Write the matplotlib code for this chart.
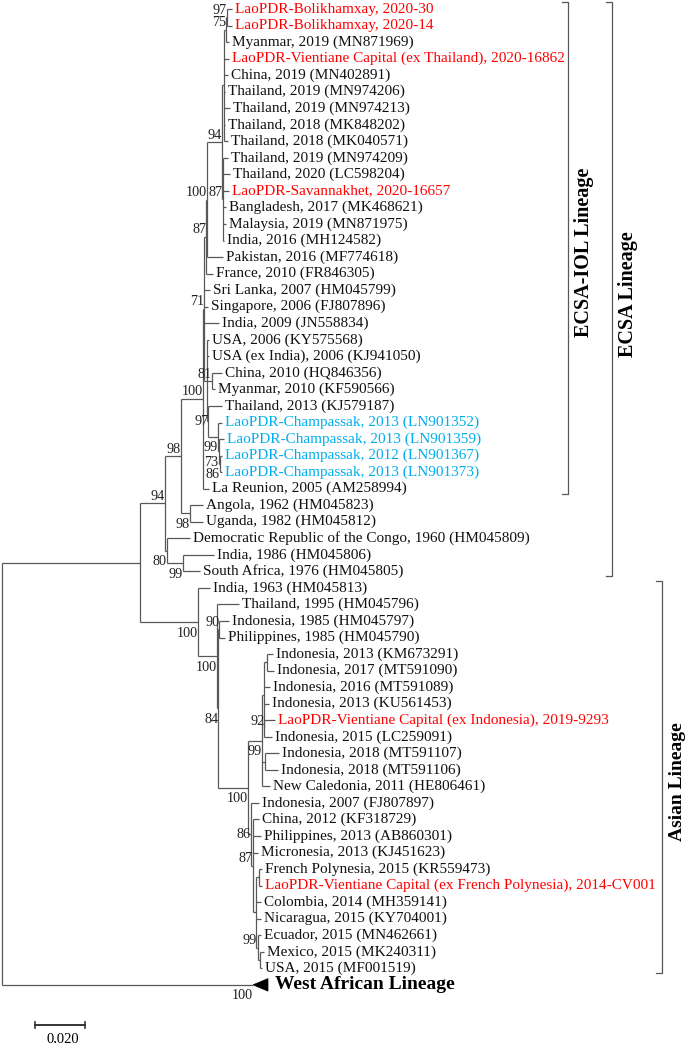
import matplotlib
matplotlib.use("Agg")
import matplotlib.pyplot as plt
from matplotlib.patches import Polygon

# ---------------- data ----------------
# Newick tree: branch lengths in substitutions/site; internal node names are ids
newick = (
    "((((((((((((L0:0.0020,L1:0.0020)N97b:0.0004,L2:0.0012)N75:0.0006,"
    "L3:0.0018,L4:0.0014,L5:0.0002,L6:0.0022,L7:0.0002,L8:0.0014)R:0.0010,"
    "(L9:0.0020,L10:0.0028,L11:0.0024,L12:0.0012,L13:0.0012,L14:0.0004)N87s:0.0004"
    ")N94:0.0058,L15:0.0062)P:0.0004,L16:0.0026)N87c:0.0008,"
    "L17:0.0022,L18:0.0014,L19:0.0058,"
    "(L20:0.0008,L21:0.0008,(L22:0.0040,L23:0.0012)N81:0.0020,"
    "(L24:0.0054,(L25:0.0016,(L26:0.0020,(L27:0.0008,L28:0.0008)N86:0.0004"
    ")N73:0.0004)N99:0.0038)N97:0.0006)M:0.0010"
    ")N71:0.0006,L29:0.0024)N100a:0.0088,"
    "(L30:0.0052,L31:0.0052)NAU:0.0036)N98a:0.0064,"
    "(L32:0.0092,(L33:0.0124,L34:0.0068)N99a:0.0064)N80:0.0008)ECSA:0.0100,"
    "(L35:0.0048,(L36:0.0088,((L37:0.0038,L38:0.0022)N90:0.0004,"
    "((((L39:0.0024,L40:0.0028)J:0.0012,L41:0.0024,L42:0.0020,"
    "(L43:0.0042,L44:0.0030)K:0.0002)G:0.0008,"
    "(L45:0.0056,L46:0.0052)I:0.0012,L47:0.0032)E:0.0056,"
    "(L48:0.0032,(L49:0.0024,L50:0.0032,L51:0.0020,"
    "((L52:0.0012,L53:0.0012)U:0.0012,L54:0.0020,L55:0.0020,"
    "(L56:0.0014,(L57:0.0018,L58:0.0010)Q2:0.0008)O:0.0006)V:0.0012"
    ")Y:0.0008)F:0.0012)D:0.0118)C84:0.0006)B:0.0076)ASIAN:0.0232"
    ")A:0.0552,WA:0.1004)root;"
)

tip_labels = [
    "LaoPDR-Bolikhamxay, 2020-30", "LaoPDR-Bolikhamxay, 2020-14",
    "Myanmar, 2019 (MN871969)", "LaoPDR-Vientiane Capital (ex Thailand), 2020-16862",
    "China, 2019 (MN402891)", "Thailand, 2019 (MN974206)", "Thailand, 2019 (MN974213)",
    "Thailand, 2018 (MK848202)", "Thailand, 2018 (MK040571)", "Thailand, 2019 (MN974209)",
    "Thailand, 2020 (LC598204)", "LaoPDR-Savannakhet, 2020-16657",
    "Bangladesh, 2017 (MK468621)", "Malaysia, 2019 (MN871975)", "India, 2016 (MH124582)",
    "Pakistan, 2016 (MF774618)", "France, 2010 (FR846305)", "Sri Lanka, 2007 (HM045799)",
    "Singapore, 2006 (FJ807896)", "India, 2009 (JN558834)", "USA, 2006 (KY575568)",
    "USA (ex India), 2006 (KJ941050)", "China, 2010 (HQ846356)", "Myanmar, 2010 (KF590566)",
    "Thailand, 2013 (KJ579187)", "LaoPDR-Champassak, 2013 (LN901352)",
    "LaoPDR-Champassak, 2013 (LN901359)", "LaoPDR-Champassak, 2012 (LN901367)",
    "LaoPDR-Champassak, 2013 (LN901373)", "La Reunion, 2005 (AM258994)",
    "Angola, 1962 (HM045823)", "Uganda, 1982 (HM045812)",
    "Democratic Republic of the Congo, 1960 (HM045809)", "India, 1986 (HM045806)",
    "South Africa, 1976 (HM045805)", "India, 1963 (HM045813)", "Thailand, 1995 (HM045796)",
    "Indonesia, 1985 (HM045797)", "Philippines, 1985 (HM045790)",
    "Indonesia, 2013 (KM673291)", "Indonesia, 2017 (MT591090)", "Indonesia, 2016 (MT591089)",
    "Indonesia, 2013 (KU561453)", "LaoPDR-Vientiane Capital (ex Indonesia), 2019-9293",
    "Indonesia, 2015 (LC259091)", "Indonesia, 2018 (MT591107)", "Indonesia, 2018 (MT591106)",
    "New Caledonia, 2011 (HE806461)", "Indonesia, 2007 (FJ807897)", "China, 2012 (KF318729)",
    "Philippines, 2013 (AB860301)", "Micronesia, 2013 (KJ451623)",
    "French Polynesia, 2015 (KR559473)",
    "LaoPDR-Vientiane Capital (ex French Polynesia), 2014-CV001",
    "Colombia, 2014 (MH359141)", "Nicaragua, 2015 (KY704001)", "Ecuador, 2015 (MN462661)",
    "Mexico, 2015 (MK240311)", "USA, 2015 (MF001519)",
]
collapsed_label = "West African Lineage"
collapsed_depth = 0.006

red_tips = [0, 1, 3, 11, 43, 53]
blue_tips = [25, 26, 27, 28]

bootstrap = {
    "N97b": 97, "N75": 75, "N94": 94, "N87s": 87, "P": 100, "N87c": 87, "N71": 71,
    "N81": 81, "N97": 97, "N99": 99, "N73": 73, "N86": 86, "N100a": 100, "N98a": 98,
    "NAU": 98, "ECSA": 94, "N80": 80, "N99a": 99, "ASIAN": 100, "B": 100, "N90": 90,
    "C84": 84, "D": 100, "E": 99, "K": 92, "F": 86, "Y": 87, "O": 99, "WA": 100,
}

clades = [  # (label, first tip, last tip)
    ("ECSA-IOL Lineage", 0, 29),
    ("ECSA Lineage", 0, 34),
    ("Asian Lineage", 35, 58),
]
scale_value = 0.020

# ---------------- style ----------------
label_side = {
    "N97b": "a", "N75": "a", "N94": "a", "N87s": "a", "P": "a", "N87c": "a", "N71": "a",
    "N81": "a", "N97": "c", "N99": "b", "N73": "b", "N86": "b", "N100a": "a", "N98a": "a",
    "NAU": "b", "ECSA": "a", "N80": "b", "N99a": "b", "ASIAN": "b", "B": "b", "N90": "a",
    "C84": "b", "D": "b", "E": "b", "K": "a", "F": "c", "Y": "a", "O": "a", "WA": "b",
}
clade_x_px = [568, 612.5, 662]
clade_font = [14.5, 14.5, 14]
RED = "#ff0000"
BLUE = "#00aeef"
LINE = "#585858"
FONT = "Liberation Serif"


# ---------------- parse newick ----------------
class Node:
    def __init__(self):
        self.name = ""
        self.length = 0.0
        self.children = []


def parse(s):
    pos = [0]

    def read_node():
        n = Node()
        if s[pos[0]] == "(":
            pos[0] += 1
            n.children.append(read_node())
            while s[pos[0]] == ",":
                pos[0] += 1
                n.children.append(read_node())
            pos[0] += 1  # ')'
        start = pos[0]
        while s[pos[0]] not in ":,);":
            pos[0] += 1
        n.name = s[start:pos[0]]
        if s[pos[0]] == ":":
            pos[0] += 1
            start = pos[0]
            while s[pos[0]] not in ",);":
                pos[0] += 1
            n.length = float(s[start:pos[0]])
        return n

    return read_node()


tree = parse(newick)
counter = [0]


def layout(n, x0):
    n.x = x0 + n.length
    if not n.children:
        n.y = counter[0]
        counter[0] += 1
    else:
        for c in n.children:
            layout(c, n.x)
        n.y = 0.5 * (n.children[0].y + n.children[-1].y)


tree.length = 0.0
layout(tree, 0.0)

# ---------------- figure ----------------
W, H = 688, 1043
fig = plt.figure(figsize=(W / 100, H / 100), dpi=100)
ax = fig.add_axes([0, 0, 1, 1])
px = 0.0004           # data units per pixel (x)
row_px = 16.54        # pixels per row
ax.set_xlim(-2 * px, (W - 2) * px)
ax.set_ylim((H - 9) / row_px, -9 / row_px)
ax.axis("off")


def draw(n):
    if n.children:
        ax.plot([n.x, n.x], [n.children[0].y, n.children[-1].y], color=LINE, lw=0.9,
                solid_capstyle="butt")
        for c in n.children:
            ax.plot([n.x, c.x], [c.y, c.y], color=LINE, lw=0.9, solid_capstyle="butt")
            draw(c)
    if n.name in bootstrap:
        side = label_side.get(n.name, "a")
        dy = {"a": -7 / row_px, "b": 11 / row_px, "c": 0.0}[side]
        ax.text(n.x - 0.3 * px, n.y + dy, str(bootstrap[n.name]), ha="right", va="center",
                fontsize=10.2, family=FONT, color="#222222")


draw(tree)


def leaves(n, out):
    if not n.children:
        out.append(n)
    for c in n.children:
        leaves(c, out)
    return out


for i, lf in enumerate(leaves(tree, [])):
    if lf.name == "WA":
        tri = Polygon([[lf.x, lf.y], [lf.x + collapsed_depth, lf.y - 0.38],
                       [lf.x + collapsed_depth, lf.y + 0.38]], closed=True,
                      facecolor="black", edgecolor="black", lw=0.5)
        ax.add_patch(tri)
        ax.annotate(collapsed_label, (lf.x + collapsed_depth, lf.y), xytext=(5, 0),
                    textcoords="offset points", ha="left", va="center",
                    fontsize=14, fontweight="bold", family=FONT)
        continue
    col = RED if i in red_tips else (BLUE if i in blue_tips else "#111111")
    ax.annotate(tip_labels[i], (lf.x, lf.y), xytext=(2.2, 0), textcoords="offset points",
                ha="left", va="center", fontsize=11, family=FONT, color=col)

# clade brackets
for (name, a, b), cxp, fs in zip(clades, clade_x_px, clade_font):
    cx = (cxp - 2) * px
    y0, y1 = a - 0.42, b + 0.3
    tick = 6 * px
    ax.plot([cx - tick, cx, cx, cx - tick], [y0, y0, y1, y1], color=LINE, lw=0.9)
    ax.text(cx + 16 * px, 0.5 * (y0 + y1) + 0.3, name, rotation=90, ha="center",
            va="center", fontsize=fs, fontweight="bold", family=FONT)

# scale bar
sx0 = 33 * px
sy = (1025 - 9) / row_px
ax.plot([sx0, sx0 + scale_value], [sy, sy], color="#333333", lw=1.4)
for xx in (sx0, sx0 + scale_value):
    ax.plot([xx, xx], [sy - 0.2, sy + 0.2], color="#333333", lw=1.2)
ax.text(sx0 + scale_value / 2 + 3 * px, sy + 0.8, f"{scale_value:.3f}".replace(".", ","),
        ha="center", va="center", fontsize=10.5, family=FONT)

fig.savefig("out.png", dpi=100)
